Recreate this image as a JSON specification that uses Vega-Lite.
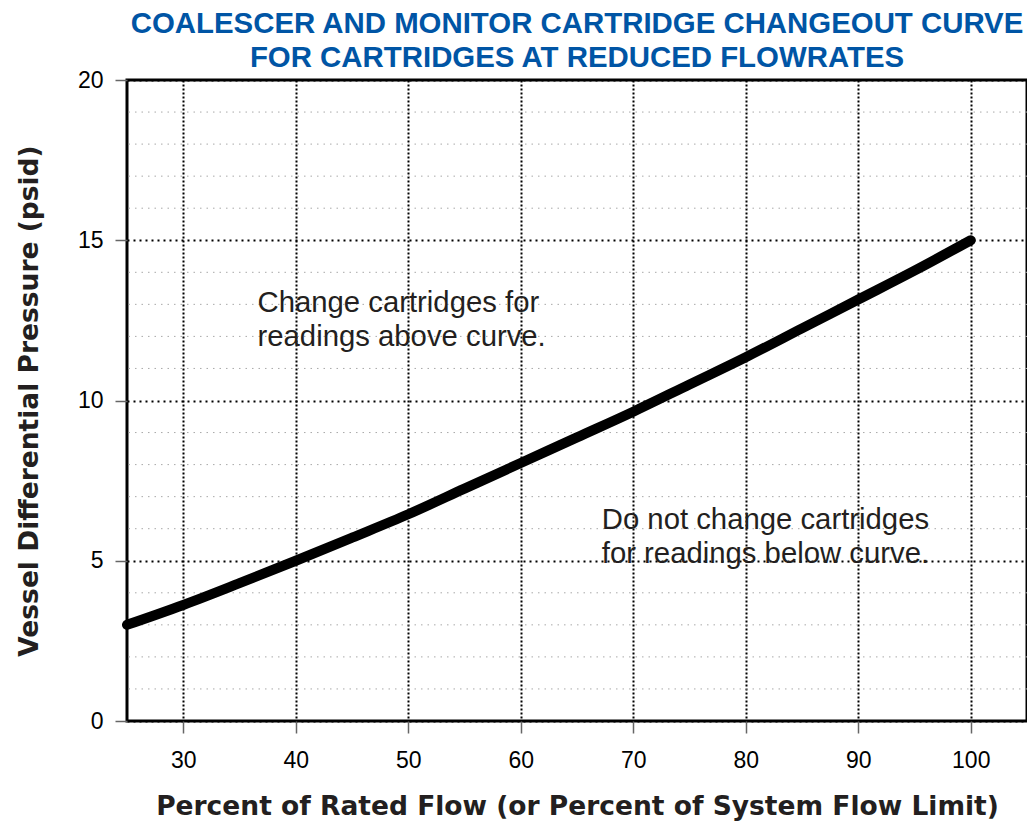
{
  "$schema": "https://vega.github.io/schema/vega-lite/v6.json",
  "width": 900,
  "height": 641,
  "autosize": "none",
  "padding": {"left": 127, "top": 80, "right": 0, "bottom": 103},
  "background": "white",
  "config": {
    "view": {"stroke": "black", "strokeWidth": 3},
    "font": "Liberation Sans"
  },
  "title": {
    "text": ["COALESCER AND MONITOR CARTRIDGE CHANGEOUT CURVE", "FOR CARTRIDGES AT REDUCED FLOWRATES"],
    "font": "Liberation Sans",
    "fontSize": 29.4,
    "fontWeight": "bold",
    "color": "#0055a5",
    "anchor": "middle",
    "lineHeight": 34,
    "offset": -4
  },
  "layer": [
    {
      "data": {
        "values": [
          {"minor": 1}, {"minor": 2}, {"minor": 3}, {"minor": 4},
          {"minor": 6}, {"minor": 7}, {"minor": 8}, {"minor": 9},
          {"minor": 11}, {"minor": 12}, {"minor": 13}, {"minor": 14},
          {"minor": 16}, {"minor": 17}, {"minor": 18}, {"minor": 19}
        ]
      },
      "mark": {"type": "rule", "color": "#a8a8a8", "strokeWidth": 1, "strokeDash": [1.5, 5]},
      "encoding": {
        "y": {"field": "minor", "type": "quantitative"}
      }
    },
    {
      "data": {
        "values": [
          {"flow": 25, "dp": 3.0},
          {"flow": 30, "dp": 3.62},
          {"flow": 35, "dp": 4.3},
          {"flow": 40, "dp": 5.0},
          {"flow": 45, "dp": 5.72},
          {"flow": 50, "dp": 6.45},
          {"flow": 55, "dp": 7.25},
          {"flow": 60, "dp": 8.05},
          {"flow": 65, "dp": 8.85},
          {"flow": 70, "dp": 9.65},
          {"flow": 75, "dp": 10.5},
          {"flow": 80, "dp": 11.35},
          {"flow": 85, "dp": 12.25},
          {"flow": 90, "dp": 13.15},
          {"flow": 95, "dp": 14.05},
          {"flow": 100, "dp": 15.0}
        ]
      },
      "mark": {"type": "line", "interpolate": "monotone", "strokeWidth": 10, "strokeCap": "round", "color": "black"},
      "encoding": {
        "x": {
          "field": "flow",
          "type": "quantitative",
          "scale": {"domain": [25, 105], "nice": false, "zero": false},
          "axis": {
            "values": [30, 40, 50, 60, 70, 80, 90, 100],
            "domain": false,
            "grid": true,
            "gridColor": "black",
            "gridDash": [2, 2],
            "gridWidth": 2,
            "tickColor": "#666666",
            "tickSize": 12,
            "tickWidth": 1.5,
            "labelFontSize": 23,
            "labelColor": "black",
            "labelPadding": 16,
            "title": "Percent of Rated Flow (or Percent of System Flow Limit)",
            "titleFont": "DejaVu Sans",
            "titleFontSize": 26.5,
            "titleFontWeight": "bold",
            "titleColor": "#231f20",
            "titlePadding": 21
          }
        },
        "y": {
          "field": "dp",
          "type": "quantitative",
          "scale": {"domain": [0, 20], "nice": false},
          "axis": {
            "values": [0, 5, 10, 15, 20],
            "labelOverlap": false,
            "domain": false,
            "grid": true,
            "gridColor": "black",
            "gridDash": [2, 4],
            "gridWidth": 2,
            "tickColor": "#666666",
            "tickSize": 12,
            "tickWidth": 1.5,
            "labelFontSize": 23,
            "labelColor": "black",
            "labelPadding": 12,
            "title": "Vessel Differential Pressure (psid)",
            "titleFont": "DejaVu Sans",
            "titleFontSize": 26.5,
            "titleFontWeight": "bold",
            "titleColor": "#231f20",
            "titlePadding": 34
          }
        }
      }
    },
    {
      "data": {
        "values": [
          {"flow": 36.6, "dp": 12.76, "label": "Change cartridges for\nreadings above curve."},
          {"flow": 67.2, "dp": 5.99, "label": "Do not change cartridges\nfor readings below curve."}
        ]
      },
      "mark": {"type": "text", "align": "left", "baseline": "alphabetic", "fontSize": 29.3, "lineHeight": 34, "lineBreak": "\n", "color": "#231f20", "font": "Liberation Sans"},
      "encoding": {
        "x": {"field": "flow", "type": "quantitative"},
        "y": {"field": "dp", "type": "quantitative"},
        "text": {"field": "label", "type": "nominal"}
      }
    }
  ]
}
